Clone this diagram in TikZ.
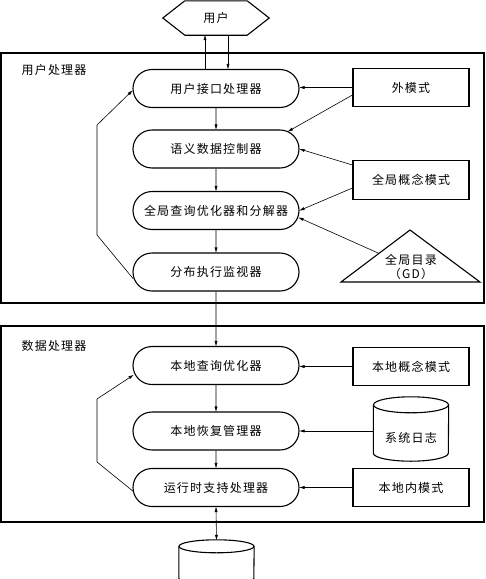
\documentclass[tikz,border=0pt]{standalone}
\usepackage{fontspec}
\newfontfamily\cjk[LetterSpace=10]{Noto Sans CJK SC}
\usetikzlibrary{shapes.misc,arrows.meta,calc}
\begin{document}
\begin{tikzpicture}[x=1pt,y=-1pt,
  every node/.style={font=\cjk\fontsize{12}{14}\selectfont, inner sep=0pt},
  proc/.style={rounded rectangle, draw, line width=1.1pt, minimum width=166pt, minimum height=38pt},
  sbox/.style={rectangle, draw, line width=1.1pt, minimum width=116pt, minimum height=38.5pt},
  frame/.style={rectangle, draw, line width=1.1pt},
  shp/.style={line width=1.1pt},
  arr/.style={line width=0.6pt, -{Triangle[length=5pt,width=2.8pt]}},
  darr/.style={line width=0.6pt, {Triangle[length=5pt,width=2.8pt]}-{Triangle[length=5pt,width=2.8pt]}}]
\useasboundingbox (0,0) rectangle (486,579);

% user hexagon
\node[minimum width=106pt, minimum height=34pt] (user) at (216,18) {用户};
\draw[shp] (user.west) -- ($(user.north west)+(22,0)$) -- ($(user.north east)+(-22,0)$) -- (user.east) -- ($(user.south east)+(-22,0)$) -- ($(user.south west)+(22,0)$) -- cycle;

% frames
\node[frame, minimum width=483pt, minimum height=250pt] (up) at (242.5,178) {};
\node (uplab) at (54,70) {用户处理器};
\node[frame, minimum width=483pt, minimum height=196pt] (dp) at (242.5,424) {};
\node (dplab) at (54,346) {数据处理器};

% user processor
\node[proc] (b1) at (216,88.5) {用户接口处理器};
\node[proc] (b2) at (216,149) {语义数据控制器};
\node[proc] (b3) at (216,210.5) {全局查询优化器和分解器};
\node[proc] (b4) at (216,272) {分布执行监视器};

\node[sbox] (ext) at (411,87.5) {外模式};
\node[sbox] (gcm) at (411,180) {全局概念模式};

% triangle GD
\coordinate (gdT) at (410,230);
\coordinate (gdL) at (341,282);
\coordinate (gdR) at (480,282);
\draw[shp] (gdT) -- (gdL) -- (gdR) -- cycle;
\node[align=center, font=\cjk\fontsize{12}{14}\selectfont] (gd) at (411,267) {全局目录\\（GD）};

% data processor
\node[proc] (b5) at (216,365.5) {本地查询优化器};
\node[proc] (b6) at (216,431) {本地恢复管理器};
\node[proc] (b7) at (216,487.5) {运行时支持处理器};

\node[sbox] (lcm) at (411,366.5) {本地概念模式};
\node[sbox] (lim) at (411,487.5) {本地内模式};

% system log cylinder
\node[minimum width=75pt, minimum height=64pt] (log) at (411,429) {};
\draw[shp] ($(log.north)+(0,8)$) ellipse[x radius=37.5, y radius=8];
\draw[shp] ($(log.north west)+(0,8)$) -- ($(log.south west)+(0,-8)$) arc[start angle=180, end angle=0, x radius=37.5, y radius=8] -- ($(log.north east)+(0,8)$);
\node (logt) at ($(log)+(0,9)$) {系统日志};

% database cylinder
\node[minimum width=75pt, minimum height=40pt] (db) at (216.5,560) {};
\draw[shp] ($(db.north)+(0,6.5)$) ellipse[x radius=37.5, y radius=6.5];
\draw[shp] ($(db.north west)+(0,6.5)$) -- ($(db.south west)+(0,-2)$) arc[start angle=180, end angle=0, x radius=37.5, y radius=6.5] -- ($(db.north east)+(0,6.5)$);

% connectors top
\draw[arr] ($(b1.north)+(-11,0)$) -- ($(user.south)+(-11,0)$);
\draw[arr] ($(user.south)+(12,0)$) -- ($(b1.north)+(12,0)$);
\draw[arr] (b1) -- (b2);
\draw[arr] (b2) -- (b3);
\draw[arr] (b3) -- (b4);
\draw[arr] (b4) -- (b5);
\draw[arr] (b5) -- (b6);
\draw[arr] (b6) -- (b7);
\draw[darr] (b7.south) -- (db.north);

% right inputs
\draw[arr] (ext.west) -- (ext.west -| b1.east);
\draw[arr] ($(ext.west)+(0,7.5)$) -- ($(b2.north)+(72,2)$);
\draw[arr] ($(gcm.west)+(0,-15)$) -- (b2.east);
\draw[arr] ($(gcm.west)+(0,8)$) -- (b3.east);
\draw[arr] ($(gdL)!0.55!(gdT)$) -- ($(b3.east)+(-1,7)$);
\draw[arr] (lcm.west) -- (lcm.west -| b5.east);
\draw[arr] (b6.east -| log.west) -- (b6.east);
\draw[arr] (lim.west) -- (b7.east);

% feedback loops
\draw[arr] ($(b4.west)+(1,7)$) -- (97,235) -- (97,125) -- ($(b1.west)+(0,2)$);
\draw[arr] ($(b7.west)+(1,4)$) -- (97,462) -- (97,399) -- ($(b5.west)+(1,9.5)$);
\end{tikzpicture}
\end{document}
